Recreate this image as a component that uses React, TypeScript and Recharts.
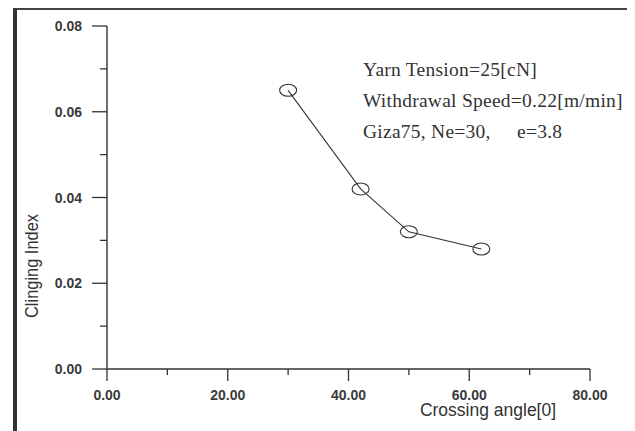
import React from 'react';
import { LineChart, Line, XAxis, YAxis, Customized } from 'recharts';

// Crossing angle [deg] vs clinging index
const angles = [30, 42, 50, 62];
const clinging = [0.065, 0.042, 0.032, 0.028];

const xTicks = [0, 10, 20, 30, 40, 50, 60, 70, 80];
const yTicks = [0, 0.01, 0.02, 0.03, 0.04, 0.05, 0.06, 0.07, 0.08];

const notes = ['Yarn Tension=25[cN]', 'Withdrawal Speed=0.22[m/min]', 'Giza75, Ne=30,'];
const noteTail = 'e=3.8';
const xTitle = 'Crossing angle[0]';
const yTitle = 'Clinging Index';

const data = angles.map((a, i) => ({ angle: a, index: clinging[i] }));

const ink = '#333';
const sans = "'Liberation Sans', Arial, sans-serif";
const serif = "'Liberation Serif', 'Times New Roman', serif";

const XTick = (props: any) => {
  const { x, y, payload } = props;
  const major = payload.value % 20 === 0;
  return (
    <g>
      <line x1={x} y1={y} x2={x} y2={y + (major ? 12 : 6)} stroke={ink} strokeWidth={1.3} />
      {major && (
        <text x={x} y={y + 31} textAnchor="middle" fontFamily={sans} fontSize={14} fontWeight="bold" fill="#3a3a3a">
          {payload.value.toFixed(2)}
        </text>
      )}
    </g>
  );
};

const YTick = (props: any) => {
  const { x, y, payload } = props;
  const major = Math.round(payload.value * 100) % 2 === 0;
  return (
    <g>
      <line x1={x - (major ? 15 : 7)} y1={y} x2={x} y2={y} stroke={ink} strokeWidth={1.3} />
      {major && (
        <text x={x - 25} y={y + 5} textAnchor="end" fontFamily={sans} fontSize={14} fontWeight="bold" fill="#3a3a3a">
          {payload.value.toFixed(2)}
        </text>
      )}
    </g>
  );
};

const Ring = (props: any) => (
  <ellipse cx={props.cx} cy={props.cy} rx={8.5} ry={6} fill="none" stroke={ink} strokeWidth={1.1} />
);

const Texts = () => (
  <g>
    {notes.map((t, i) => (
      <text key={t} x={355} y={68 + i * 31} fontFamily={serif} fontSize={19.5} letterSpacing={0.25} fill={ink}>
        {t}
      </text>
    ))}
    <text x={509} y={130} fontFamily={serif} fontSize={19.5} letterSpacing={0.25} fill={ink}>
      {noteTail}
    </text>
    <text x={480} y={408} textAnchor="middle" fontFamily={sans} fontSize={17.5} fill={ink}>
      {xTitle}
    </text>
    <text
      transform="translate(30, 258) rotate(-90)"
      textAnchor="middle"
      fontFamily={sans}
      fontSize={19}
      textLength={104}
      lengthAdjust="spacingAndGlyphs"
      fill={ink}
    >
      {yTitle}
    </text>
  </g>
);

export default function App() {
  return (
    <div style={{ position: 'relative', width: 627, height: 423, background: '#fff' }}>
      <div
        style={{
          position: 'absolute',
          left: 5,
          top: 0,
          width: 619,
          height: 423,
          boxSizing: 'border-box',
          borderTop: '2px solid #444',
          borderLeft: '4px solid #333',
          borderRight: '3px solid #333',
          pointerEvents: 'none',
        }}
      />
      <LineChart width={627} height={423} data={data} margin={{ top: 18, right: 45, left: 0, bottom: 0 }}>
        <XAxis
          type="number"
          dataKey="angle"
          domain={[0, 80]}
          ticks={xTicks}
          interval={0}
          height={62}
          tickSize={0}
          tickMargin={0}
          tickLine={false}
          axisLine={{ stroke: ink, strokeWidth: 1.4 }}
          tick={<XTick />}
        />
        <YAxis
          type="number"
          domain={[0, 0.08]}
          ticks={yTicks}
          interval={0}
          width={99}
          tickSize={0}
          tickMargin={0}
          tickLine={false}
          axisLine={{ stroke: ink, strokeWidth: 1.4 }}
          tick={<YTick />}
        />
        <Line
          type="linear"
          dataKey="index"
          stroke={ink}
          strokeWidth={1.1}
          dot={<Ring />}
          isAnimationActive={false}
        />
        <Customized component={Texts} />
      </LineChart>
    </div>
  );
}
